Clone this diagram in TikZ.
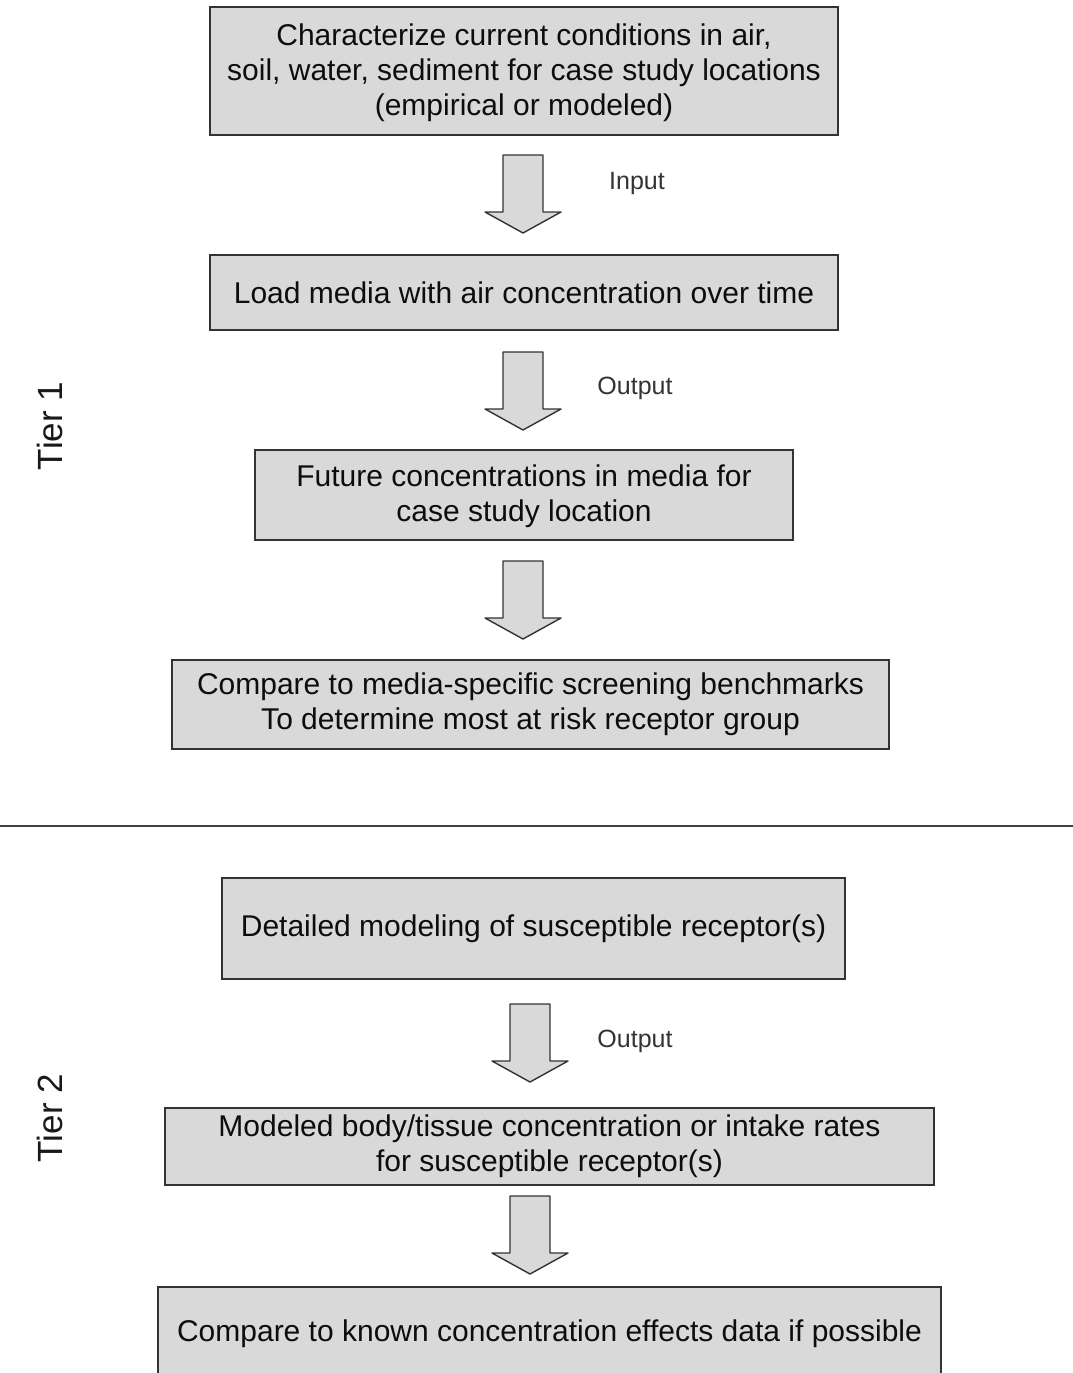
\documentclass[tikz,border=0pt]{standalone}
\usepackage{fontspec}
\setmainfont{Liberation Sans}
\begin{document}
\begin{tikzpicture}[x=1pt,y=-1pt,
  stepbox/.style={draw=boxline,fill=boxfill,line width=1.5pt,align=center,
    inner sep=0pt,text=black!95,font=\fontsize{30}{35}\selectfont},
  arrowbody/.style={draw=boxline,fill=boxfill,line width=1.4pt,line join=round},
  flowlabel/.style={text=black!80,font=\fontsize{25}{30}\selectfont,inner sep=0pt},
  tierlabel/.style={rotate=90,text=black!90,font=\fontsize{35}{40}\selectfont,inner sep=0pt},
  blockarrow/.pic={\path[arrowbody] (-20,0) -- (20,0) -- (20,57) -- (38,57) -- (0,78)
    -- (-38,57) -- (-20,57) -- cycle;}
]
\definecolor{boxfill}{HTML}{D9D9D9}
\definecolor{boxline}{HTML}{333333}
\useasboundingbox (0,0) rectangle (1073,1373);
\clip (0,0) rectangle (1073,1373);

% Tier 1
\node[stepbox,minimum width=628pt,minimum height=128pt] (b1) at (524,71)
  {\rule{0pt}{26pt}Characterize current conditions in air,\\soil, water, sediment for case study locations\\(empirical or modeled)};
\node[stepbox,minimum width=628pt,minimum height=75pt] (b2) at (524,292.5)
  {Load media with air concentration over time};
\node[stepbox,minimum width=538pt,minimum height=90pt] (b3) at (524,495)
  {\rule{0pt}{24pt}Future concentrations in media for\\case study location};
\node[stepbox,minimum width=717pt,minimum height=89pt] (b4) at (530.5,704.5)
  {Compare to media-specific screening benchmarks\\To determine most at risk receptor group};

\pic at (523,155) {blockarrow};
\pic at (523,352) {blockarrow};
\pic at (523,561) {blockarrow};
\node[flowlabel] (lin) at (637,183) {Input};
\node[flowlabel] (lout1) at (635,388) {Output};
\node[tierlabel] (t1) at (50,426) {Tier 1};

% divider between the tiers
\draw[line width=2.2pt,draw=black!75] (0,826) -- (1073,826);

% Tier 2
\node[stepbox,minimum width=623pt,minimum height=101pt] (b5) at (533.5,928.5)
  {Detailed modeling of susceptible receptor(s)};
\node[stepbox,minimum width=769pt,minimum height=77pt] (b6) at (549.5,1146.5)
  {Modeled body/tissue concentration or intake rates\\for susceptible receptor(s)};
\node[stepbox,minimum width=783pt,minimum height=94pt] (b7) at (549.5,1334)
  {Compare to known concentration effects data if possible};

\pic at (530,1004) {blockarrow};
\pic at (530,1196) {blockarrow};
\node[flowlabel] (lout2) at (635,1041) {Output};
\node[tierlabel] (t2) at (50,1118) {Tier 2};
\end{tikzpicture}
\end{document}
